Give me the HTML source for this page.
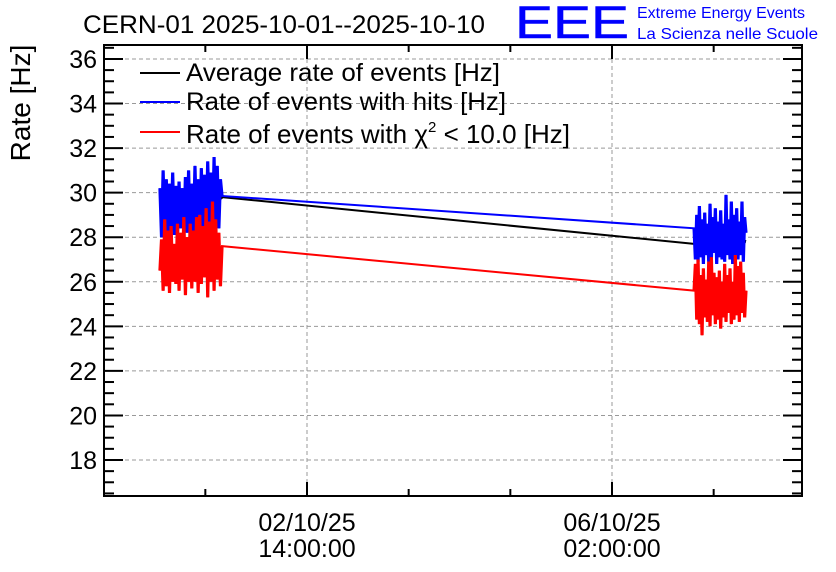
<!DOCTYPE html>
<html><head><meta charset="utf-8"><style>
body{margin:0;background:#fff;}
svg{display:block;font-family:"Liberation Sans",sans-serif;}
</style></head><body>
<svg id="chart" width="836" height="572">
<text x="83" y="33" font-size="25" textLength="402" lengthAdjust="spacingAndGlyphs">CERN-01 2025-10-01--2025-10-10</text>
<text x="515" y="38" font-size="45" fill="#0000ff" stroke="#0000ff" stroke-width="0.5" textLength="114" lengthAdjust="spacingAndGlyphs">EEE</text>
<text x="637" y="18" font-size="16" fill="#0000ff" textLength="168" lengthAdjust="spacingAndGlyphs">Extreme Energy Events</text>
<text x="637" y="39" font-size="16" fill="#0000ff" textLength="181" lengthAdjust="spacingAndGlyphs">La Scienza nelle Scuole</text>
<text transform="translate(30,103) rotate(-90)" text-anchor="middle" font-size="28">Rate [Hz]</text>
<g id="grid"></g><g id="series"></g><g id="axes"></g>
<g>
<line x1="140" y1="73" x2="180" y2="73" stroke="#000" stroke-width="2"/>
<text x="186" y="81" font-size="25" textLength="314" lengthAdjust="spacingAndGlyphs">Average rate of events [Hz]</text>
<line x1="140" y1="102" x2="180" y2="102" stroke="#0000ff" stroke-width="2"/>
<text x="186" y="110" font-size="25" textLength="320" lengthAdjust="spacingAndGlyphs">Rate of events with hits [Hz]</text>
<line x1="140" y1="132" x2="180" y2="132" stroke="#ff0000" stroke-width="2"/>
<text x="186" y="143" font-size="26">Rate of events with χ<tspan font-size="15" dy="-11">2</tspan><tspan dy="11"> &lt; 10.0 [Hz]</tspan></text>
</g>
</svg>
<script>
// hours relative to 02/10/25 14:00
const clusterStart=[-40.5,106.6];
const clusterEnd=[-23.4,120.9];
const blue1=[30.2,28.0,31.0,28.2,30.6,27.9,30.4,28.3,30.9,28.1,30.3,28.0,30.5,28.4,30.2,28.1,30.7,28.2,31.0,27.9,30.4,28.3,31.2,28.5,30.6,28.0,31.1,28.4,30.8,28.2,31.4,28.6,30.9,28.3,31.6,28.1,31.2,28.4,30.6,29.85];
const red1=[26.5,27.9,25.6,28.8,25.8,28.3,25.5,28.5,26.0,27.7,25.9,28.6,25.6,28.2,26.1,28.9,25.4,28.0,26.0,28.6,25.7,28.3,26.0,28.9,25.5,29.0,25.9,28.5,26.2,29.3,25.3,28.7,26.0,29.6,25.6,28.8,26.1,28.2,25.8,27.6];
const blue2=[28.4,27.0,29.0,26.9,29.4,27.1,28.8,26.8,29.1,27.2,28.6,26.9,29.5,27.0,28.9,27.3,29.3,26.8,28.7,27.1,29.2,27.0,28.6,26.9,29.9,27.2,28.8,27.0,29.6,26.8,29.0,27.1,29.3,27.0,28.7,27.2,29.6,26.9,28.9,28.2];
const red2=[25.6,26.8,24.3,27.0,24.1,26.3,23.6,26.6,24.4,26.1,24.2,26.9,24.0,27.1,24.5,26.4,24.1,26.2,24.3,26.5,23.9,26.0,24.4,26.8,24.2,26.3,24.6,26.6,24.1,26.0,24.3,27.2,24.5,26.7,24.2,26.9,24.6,26.4,24.4,25.6];
const black1=[29.0,29.2,29.1,29.3,29.4,29.8];
const black2=[27.7,27.8,27.9,27.8,27.9,27.8];
const yTicks=[18,20,22,24,26,28,30,32,34,36];
const xTickHours=[0,84];
const xTickLabels=[["02/10/25","14:00:00"],["06/10/25","02:00:00"]];
const minorXHours=[-28,28,56,112];

const L=104,R=802,T=45,B=496;
const X=h=>307+h*305/84;
const Y=v=>460-(v-18)*22.28;
const NS="http://www.w3.org/2000/svg";
function mk(p,tag,a){const e=document.createElementNS(NS,tag);for(const k in a)e.setAttribute(k,a[k]);p.appendChild(e);return e;}
const grid=document.getElementById('grid'),ser=document.getElementById('series'),ax=document.getElementById('axes');
yTicks.forEach(v=>{
 const g=mk(grid,'line',{x1:L,x2:R,y1:Y(v),y2:Y(v),stroke:'#999','stroke-dasharray':'4,3'});
 
 
 const t=mk(ax,'text',{x:97,y:Y(v)+9,'text-anchor':'end','font-size':'25'});
 t.textContent=v;
 
 
});
xTickHours.forEach((h,i)=>{
 const g=mk(grid,'line',{x1:X(h),x2:X(h),y1:T,y2:B,stroke:'#999','stroke-dasharray':'4,3'});
 
 
 xTickLabels[i].forEach((s,j)=>{
  const t=mk(ax,'text',{x:X(h),y:531+j*26,'text-anchor':'middle','font-size':'25'});
  t.textContent=s;
  
  
 });
 mk(ax,'line',{x1:X(h),x2:X(h),y1:B,y2:B-14,stroke:'#000','stroke-width':2});
 mk(ax,'line',{x1:X(h),x2:X(h),y1:T,y2:T+14,stroke:'#000','stroke-width':2});
});
minorXHours.forEach(h=>{
 mk(ax,'line',{x1:X(h),x2:X(h),y1:B,y2:B-7,stroke:'#000','stroke-width':2});
 mk(ax,'line',{x1:X(h),x2:X(h),y1:T,y2:T+7,stroke:'#000','stroke-width':2});
});
for(let v=16.5;v<=36.6;v+=0.5){
 const major=Math.abs(v/2-Math.round(v/2))<1e-6;const len=major?19:10;
 mk(ax,'line',{x1:L,x2:L+len,y1:Y(v),y2:Y(v),stroke:'#000','stroke-width':2});
 mk(ax,'line',{x1:R,x2:R-len,y1:Y(v),y2:Y(v),stroke:'#000','stroke-width':2});
}
const frame=mk(ax,'rect',{x:L,y:T,width:R-L,height:B-T,fill:'none',stroke:'#000','stroke-width':2});


function clusterPts(a,c){const s=clusterStart[c],e=clusterEnd[c];return a.map((v,i)=>X(s+(e-s)*(a.length>1?i/(a.length-1):0))+','+Y(v));}
[[black1,black2,'#000','average-series'],[blue1,blue2,'#0000ff','hits-series'],[red1,red2,'#ff0000','chi2-series']].forEach(s=>{
 const g=mk(ser,'g',{});
 
 
 mk(g,'polyline',{points:clusterPts(s[0],0).concat(clusterPts(s[1],1)).join(' '),fill:'none',stroke:s[2],'stroke-width':2});
 [s[0],s[1]].forEach((a,c)=>{
  mk(g,'polyline',{points:clusterPts(a,c).join(' '),fill:'none',stroke:s[2],'stroke-width':3.2,'stroke-linejoin':'bevel'});
 });
});
</script>
</body></html>
